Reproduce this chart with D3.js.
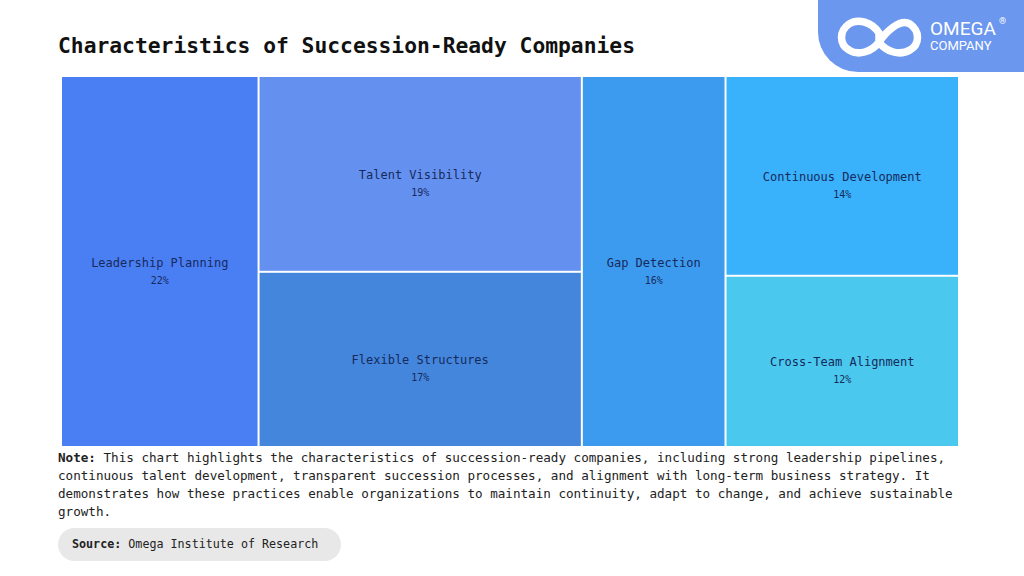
<!DOCTYPE html>
<html>
<head>
<meta charset="utf-8">
<script src="https://cdn.jsdelivr.net/npm/d3@7"></script>
<style>
  body { margin: 0; background: #fff; }
  svg { display: block; }
  .mono { font-family: "DejaVu Sans Mono", "Liberation Mono", monospace; }
</style>
</head>
<body>
<div id="chart"></div>
<script>
// chart data
const groups = ["g1", "g2", "g3", "g4"];
const categories = ["Leadership Planning", "Talent Visibility", "Flexible Structures", "Gap Detection", "Continuous Development", "Cross-Team Alignment"];
const categoryGroup = ["g1", "g2", "g2", "g3", "g4", "g4"];
const shares = [22, 19, 17, 16, 14, 12];
const colors = ["#4a7ff4", "#6491f0", "#4386dc", "#3c9bef", "#39b1fb", "#4bc8ee"];

const noteLines = [
    "This chart highlights the characteristics of succession-ready companies, including strong leadership pipelines,",
    "continuous talent development, transparent succession processes, and alignment with long-term business strategy. It",
    "demonstrates how these practices enable organizations to maintain continuity, adapt to change, and achieve sustainable",
    "growth."
];

const W = 1024, H = 576;
const svg = d3.select("#chart").append("svg")
    .attr("width", W)
    .attr("height", H);

// Logo badge top-right
const badge = svg.append("g");
badge.append("path")
    .attr("d", "M818,0 H1024 V72 H858 A40,40 0 0 1 818,32 Z")
    .attr("fill", "#6b97ef");
// infinity symbol
badge.append("path")
    .attr("d", "M879,33 C872,22 858,18 849,24 C839,31 839,44 849,50 C858,56 872,52 879,42 C886,32 900,18 910,24 C920,31 920,44 910,50 C900,56 886,52 879,42 Z")
    .attr("fill", "none")
    .attr("stroke", "#fff")
    .attr("stroke-width", 7.5)
    .attr("stroke-linejoin", "round");
badge.append("text")
    .attr("x", 930).attr("y", 35)
    .attr("fill", "#fff")
    .attr("font-family", "Roboto, sans-serif")
    .attr("font-size", 19)
    .text("OMEGA");
badge.append("text")
    .attr("x", 999).attr("y", 24)
    .attr("fill", "#fff")
    .attr("font-family", "Roboto, sans-serif")
    .attr("font-size", 9)
    .text("®");
badge.append("text")
    .attr("x", 930).attr("y", 50)
    .attr("fill", "#fff")
    .attr("font-family", "Roboto, sans-serif")
    .attr("font-size", 13)
    .text("COMPANY");

// Title
svg.append("text")
    .attr("class", "mono")
    .attr("x", 58).attr("y", 53)
    .attr("font-size", 21.3)
    .attr("font-weight", "bold")
    .attr("fill", "#111")
    .text("Characteristics of Succession-Ready Companies");

// Treemap
const leaves = categories.map((c, i) => ({ name: c, group: categoryGroup[i], value: shares[i], color: colors[i] }));
const tree = {
    name: "root",
    children: groups.map(g => ({ name: g, children: leaves.filter(d => d.group === g) }))
};

const root = d3.hierarchy(tree)
    .sum(d => d.value || 0);

d3.treemap()
    .tile(d3.treemapSliceDice)
    .size([896, 369])
    .paddingInner(2)
    .round(false)(root);

const plot = svg.append("g").attr("transform", "translate(62,77)");

const cell = plot.selectAll("g.cell")
    .data(root.leaves())
    .enter().append("g")
    .attr("class", "cell");

cell.append("rect")
    .attr("x", d => d.x0)
    .attr("y", d => d.y0)
    .attr("width", d => d.x1 - d.x0)
    .attr("height", d => d.y1 - d.y0)
    .attr("fill", d => d.data.color);

cell.append("text")
    .attr("class", "mono")
    .attr("x", d => (d.x0 + d.x1) / 2)
    .attr("y", d => (d.y0 + d.y1) / 2 + 5)
    .attr("text-anchor", "middle")
    .attr("font-size", 12)
    .attr("fill", "#172a5c")
    .text(d => d.data.name);

cell.append("text")
    .attr("class", "mono")
    .attr("x", d => (d.x0 + d.x1) / 2)
    .attr("y", d => (d.y0 + d.y1) / 2 + 22)
    .attr("text-anchor", "middle")
    .attr("font-size", 10)
    .attr("fill", "#172a5c")
    .text(d => d.data.value + "%");

// Note
const note = svg.append("text")
    .attr("class", "mono")
    .attr("font-size", 12.6)
    .attr("fill", "#222");
noteLines.forEach((line, i) => {
    const t = note.append("tspan")
        .attr("x", 58)
        .attr("y", 462 + i * 18);
    if (i === 0) {
        t.append("tspan").attr("font-weight", "bold").text("Note:");
        t.append("tspan").text(" " + line);
    } else {
        t.text(line);
    }
});

// Source pill
svg.append("rect")
    .attr("x", 58).attr("y", 528)
    .attr("width", 283).attr("height", 33)
    .attr("rx", 16.5)
    .attr("fill", "#e8e8e8");
const src = svg.append("text")
    .attr("class", "mono")
    .attr("x", 72).attr("y", 548)
    .attr("font-size", 11.7)
    .attr("fill", "#222");
src.append("tspan").attr("font-weight", "bold").text("Source:");
src.append("tspan").text(" Omega Institute of Research");
</script>
</body>
</html>
